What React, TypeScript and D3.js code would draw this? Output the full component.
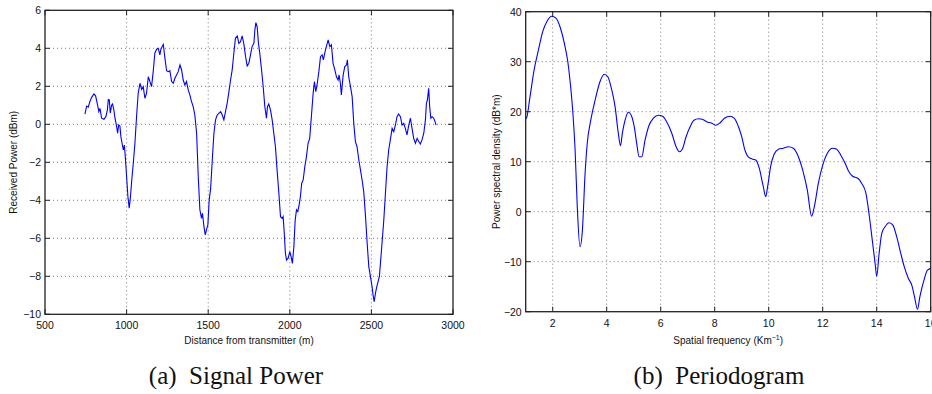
import React from "react";
import * as d3 from "d3";

// ---------- Data: (a) Signal Power ----------
const distance: number[] = [
  745, 755, 765, 775, 786, 800, 810, 820, 830, 837, 847, 861, 873, 882, 888, 894, 900, 908, 914, 922,
  929, 939, 945, 951, 959, 965, 974, 980, 986, 992, 1000, 1008, 1016, 1022, 1031, 1041, 1051, 1061, 1071, 1082,
  1092, 1102, 1112, 1122, 1133, 1143, 1153, 1163, 1173, 1184, 1194, 1204, 1210, 1218, 1225, 1235, 1245, 1255, 1265, 1276,
  1286, 1296, 1306, 1316, 1327, 1337, 1347, 1357, 1367, 1378, 1388, 1398, 1408, 1418, 1429, 1439, 1449, 1459, 1465, 1474,
  1482, 1490, 1498, 1506, 1515, 1525, 1535, 1545, 1555, 1565, 1576, 1586, 1596, 1606, 1616, 1627, 1637, 1647, 1657, 1667,
  1678, 1688, 1698, 1708, 1718, 1729, 1739, 1749, 1759, 1769, 1780, 1786, 1792, 1800, 1808, 1816, 1827, 1837, 1847, 1857,
  1863, 1871, 1882, 1892, 1902, 1912, 1922, 1933, 1943, 1953, 1959, 1965, 1973, 1980, 1990, 2000, 2008, 2016, 2025, 2033,
  2041, 2049, 2057, 2065, 2073, 2082, 2092, 2102, 2112, 2122, 2133, 2143, 2151, 2159, 2167, 2178, 2188, 2198, 2206, 2214,
  2224, 2235, 2245, 2255, 2265, 2276, 2286, 2296, 2302, 2310, 2316, 2327, 2337, 2347, 2353, 2361, 2372, 2382, 2392, 2402,
  2412, 2423, 2433, 2443, 2453, 2464, 2474, 2484, 2494, 2504, 2510, 2517, 2525, 2533, 2541, 2549, 2557, 2565, 2576, 2586,
  2596, 2606, 2616, 2627, 2637, 2647, 2657, 2667, 2678, 2688, 2698, 2708, 2718, 2729, 2739, 2749, 2759, 2770, 2780, 2790,
  2800, 2810, 2821, 2831, 2837, 2843, 2851, 2857, 2864, 2872, 2882, 2890, 2896,
];
const power: number[] = [
  0.53, 0.96, 0.9, 1.2, 1.42, 1.6, 1.5, 1.1, 0.67, 0.84, 0.32, 0.26, 0.4, 0.75, 1.3, 1.28, 0.58, 1.0, 1.07, 0.75,
  0.32, -0.12, -0.47, -0.04, -0.09, -0.65, -1.09, -1.35, -1.09, -1.7, -2.75, -3.8, -4.42, -3.98, -3.0, -2.05, -1.0, 0.4, 1.63, 2.16,
  1.84, 1.98, 1.37, 1.63, 2.5, 2.25, 1.98, 2.77, 3.74, 3.95, 4.0, 3.65, 3.95, 4.09, 4.2, 3.47, 2.82, 2.77, 2.82, 2.25,
  2.16, 2.42, 2.6, 2.77, 3.12, 2.86, 2.33, 2.07, 2.25, 1.8, 1.54, 1.19, 0.93, 0.49, -0.47, -2.75, -4.5, -4.95, -4.68, -5.39,
  -5.82, -5.53, -5.3, -3.98, -3.37, -1.88, -0.47, 0.23, 0.49, 0.58, 0.67, 0.49, 0.23, 0.67, 1.1, 1.72, 2.33, 2.86, 3.74, 4.53,
  4.65, 4.26, 4.35, 4.65, 4.26, 3.56, 3.07, 3.21, 3.65, 4.09, 4.26, 4.96, 5.35, 5.14, 4.26, 3.74, 2.86, 1.98, 0.93, 0.32,
  0.93, 1.07, 0.75, 0.23, -0.47, -1.18, -2.4, -3.63, -4.86, -4.95, -4.86, -5.56, -6.79, -7.14, -7.05, -6.7, -6.96, -7.32, -6.44, -5.04,
  -4.5, -4.6, -4.25, -3.8, -3.1, -2.93, -2.23, -1.7, -1.0, -0.74, 0.49, 1.63, 2.25, 1.72, 2.07, 2.77, 3.56, 3.65, 3.39, 3.74,
  4.09, 4.44, 4.09, 4.18, 3.21, 2.86, 2.5, 2.33, 2.6, 2.16, 1.54, 2.6, 3.04, 3.12, 3.39, 2.5, 1.98, 1.46, 0.05, -0.91,
  -1.18, -1.88, -2.4, -2.93, -3.54, -4.86, -6.26, -7.49, -8.0, -8.54, -8.98, -9.33, -8.89, -8.54, -8.28, -8.0, -7.14, -6.26, -5.04, -3.63,
  -2.23, -1.35, -0.82, -0.21, -0.39, -0.04, 0.4, 0.54, 0.4, -0.04, 0.05, -0.21, -0.56, -0.04, 0.32, -0.21, -0.74, -1.0, -0.74, -0.91,
  -1.04, -0.82, -0.47, 0.23, 1.1, 1.28, 1.89, 0.93, 0.32, 0.4, 0.32, 0.14, -0.04,
];
const leftXTicks: number[] = [500, 1000, 1500, 2000, 2500, 3000];
const leftYTicks: number[] = [-10, -8, -6, -4, -2, 0, 2, 4, 6];

// ---------- Data: (b) Periodogram ----------
const frequency: number[] = [
  1.0, 1.04, 1.16, 1.31, 1.47, 1.63, 1.8, 1.96, 2.12, 2.27, 2.43, 2.56, 2.64, 2.74, 2.83, 2.91, 3.01, 3.1, 3.2, 3.28,
  3.41, 3.57, 3.75, 3.91, 4.04, 4.19, 4.31, 4.43, 4.51, 4.58, 4.68, 4.8, 4.93, 5.02, 5.11, 5.2, 5.3, 5.42, 5.57, 5.73,
  5.91, 6.07, 6.22, 6.41, 6.57, 6.69, 6.8, 6.94, 7.09, 7.23, 7.4, 7.54, 7.7, 7.89, 8.04, 8.2, 8.36, 8.57, 8.72, 8.88,
  9.0, 9.12, 9.25, 9.41, 9.53, 9.65, 9.8, 9.89, 9.96, 10.07, 10.2, 10.36, 10.54, 10.73, 10.91, 11.1, 11.26, 11.43, 11.59, 11.69,
  11.84, 12.0, 12.17, 12.37, 12.52, 12.67, 12.83, 12.95, 13.11, 13.3, 13.44, 13.6, 13.73, 13.85, 13.94, 14.0, 14.09, 14.19, 14.31, 14.46,
  14.6, 14.74, 14.89, 15.02, 15.17, 15.3, 15.4, 15.51, 15.6, 15.75, 15.88, 16.04,
];
const psd: number[] = [
  18.6, 18.9, 23, 28.3, 32.3, 36, 38.2, 39.1, 38.7, 37, 33.7, 30, 26.3, 20.3, 12.3, 1, -7, -3.7, 7.7, 13.7,
  18.3, 22.3, 26, 27.5, 27, 24.3, 21, 15.7, 13.2, 15.7, 18.3, 19.9, 19, 17, 13.7, 11, 11, 14.3, 17.3, 18.7,
  19.3, 19.1, 18, 15.7, 13, 12, 12.5, 15, 17, 18.3, 18.6, 18.5, 18, 17.7, 17.3, 17.8, 18.7, 19.1, 18.7, 17,
  15, 12.3, 10.9, 10.5, 10.3, 8.7, 5, 3, 5, 9, 11.5, 12.5, 12.7, 13, 12.7, 11, 8.3, 4.3, -0.9, 1,
  5.7, 9.3, 11.7, 12.7, 12.5, 11.3, 9.7, 8.2, 7.1, 6.7, 5.7, 3.7, -1, -6.3, -10.3, -12.9, -8.3, -4.3, -3, -2.2,
  -2.7, -5, -8.3, -11, -13.3, -14.7, -17, -19.5, -17, -13.7, -11.7, -11.3,
];
const rightXTicks: number[] = [2, 4, 6, 8, 10, 12, 14, 16];
const rightYTicks: number[] = [-20, -10, 0, 10, 20, 30, 40];

const fmt = (v: number) => (v < 0 ? "\u2212" + Math.abs(v) : String(v));

type PanelProps = {
  xs: number[];
  ys: number[];
  xDomain: [number, number];
  yDomain: [number, number];
  left: number;
  right: number;
  top: number;
  bottom: number;
  xTicks: number[];
  yTicks: number[];
  xLabel: React.ReactNode;
  yLabel: string;
  yLabelX: number;
  smooth: boolean;
  clipId: string;
};

function Panel(p: PanelProps) {
  const x = d3.scaleLinear().domain(p.xDomain).range([p.left, p.right]);
  const y = d3.scaleLinear().domain(p.yDomain).range([p.bottom, p.top]);
  const pts: [number, number][] = p.xs.map((v, i) => [v, p.ys[i]]);
  const line = d3
    .line<[number, number]>()
    .x((d) => x(d[0]))
    .y((d) => y(d[1]))
    .curve(p.smooth ? d3.curveMonotoneX : d3.curveLinear);
  const tick = 5;
  const font = "'Liberation Sans', Arial, Helvetica, sans-serif";
  const cx = (p.left + p.right) / 2;
  const cy = (p.top + p.bottom) / 2;
  return (
    <g fontFamily={font}>
      <defs>
        <clipPath id={p.clipId}>
          <rect x={p.left} y={p.top} width={p.right - p.left} height={p.bottom - p.top} />
        </clipPath>
      </defs>
      <rect x={p.left} y={p.top} width={p.right - p.left} height={p.bottom - p.top} fill="#fff" />
      {/* grid */}
      {p.xTicks
        .filter((t) => t > p.xDomain[0] && t < p.xDomain[1])
        .map((t) => (
          <line key={"gx" + t} x1={x(t)} x2={x(t)} y1={p.top} y2={p.bottom} stroke="#555" strokeWidth={0.8} strokeDasharray="1,3" />
        ))}
      {p.yTicks
        .filter((t) => t > p.yDomain[0] && t < p.yDomain[1])
        .map((t) => (
          <line key={"gy" + t} x1={p.left} x2={p.right} y1={y(t)} y2={y(t)} stroke="#555" strokeWidth={0.8} strokeDasharray="1,3" />
        ))}
      {/* data */}
      <path d={line(pts) || ""} fill="none" stroke="#0000ff" strokeWidth={1.1} clipPath={`url(#${p.clipId})`} />
      {/* ticks */}
      {p.xTicks.map((t) => (
        <g key={"tx" + t}>
          <line x1={x(t)} x2={x(t)} y1={p.bottom} y2={p.bottom - tick} stroke="#222" />
          <line x1={x(t)} x2={x(t)} y1={p.top} y2={p.top + tick} stroke="#222" />
          <text x={x(t)} y={p.bottom + 15} fontSize={10.5} textAnchor="middle" fill="#111">
            {fmt(t)}
          </text>
        </g>
      ))}
      {p.yTicks.map((t) => (
        <g key={"ty" + t}>
          <line x1={p.left} x2={p.left + tick} y1={y(t)} y2={y(t)} stroke="#222" />
          <line x1={p.right} x2={p.right - tick} y1={y(t)} y2={y(t)} stroke="#222" />
          <text x={p.left - 4} y={y(t) + 3.8} fontSize={10.5} textAnchor="end" fill="#111">
            {fmt(t)}
          </text>
        </g>
      ))}
      <rect x={p.left} y={p.top} width={p.right - p.left} height={p.bottom - p.top} fill="none" stroke="#222" strokeWidth={1.3} />
      {/* labels */}
      <text x={cx} y={344} fontSize={10} textAnchor="middle" fill="#111">
        {p.xLabel}
      </text>
      <text
        x={0}
        y={0}
        fontSize={10}
        textAnchor="middle"
        fill="#111"
        transform={`translate(${p.yLabelX},${cy}) rotate(-90)`}
      >
        {p.yLabel}
      </text>
    </g>
  );
}

export default function App() {
  return (
    <svg
      width={932}
      height={394}
      viewBox="0 0 932 394"
      style={{ position: "absolute", left: 0, top: 0, background: "#fff" }}
    >
      <rect x={0} y={0} width={932} height={394} fill="#fff" />
      <Panel
        xs={distance}
        ys={power}
        xDomain={[500, 3000]}
        yDomain={[-10, 6]}
        left={45}
        right={453}
        top={10.3}
        bottom={314.3}
        xTicks={leftXTicks}
        yTicks={leftYTicks}
        xLabel="Distance from transmitter (m)"
        yLabel="Received Power (dBm)"
        yLabelX={17}
        smooth={false}
        clipId="clipA"
      />
      <Panel
        xs={frequency}
        ys={psd}
        xDomain={[1, 16]}
        yDomain={[-20, 40]}
        left={525.7}
        right={930.7}
        top={11.7}
        bottom={311.7}
        xTicks={rightXTicks}
        yTicks={rightYTicks}
        xLabel={
          <>
            Spatial frequency (Km
            <tspan dy={-4} fontSize={7}>
              {"\u22121"}
            </tspan>
            <tspan dy={4}>)</tspan>
          </>
        }
        yLabel="Power spectral density (dB*m)"
        yLabelX={500}
        smooth={true}
        clipId="clipB"
      />
      <g fontFamily="'Liberation Serif', 'Times New Roman', serif" fontSize={25} fill="#111">
        <text x={236} y={384} textAnchor="middle" xmlSpace="preserve">
          {"(a)\u00a0 Signal Power"}
        </text>
        <text x={719} y={384} textAnchor="middle" xmlSpace="preserve">
          {"(b)\u00a0 Periodogram"}
        </text>
      </g>
    </svg>
  );
}
